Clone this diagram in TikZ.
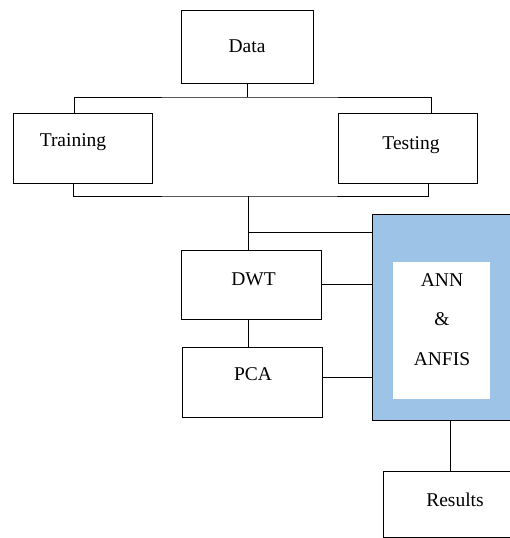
\documentclass[tikz,border=0pt]{standalone}
\usepackage{fontspec}
\setmainfont{Liberation Serif}
\definecolor{bleu}{RGB}{157,195,230}

\begin{document}
\begin{tikzpicture}[x=1pt,y=-1pt,line width=1pt,
  box/.style={draw,fill=white,inner sep=0pt,font=\fontsize{19.5}{39.5}\selectfont},
  lbl/.style={font=\fontsize{19.5}{39.5}\selectfont,inner sep=0pt,align=center}]
\useasboundingbox (0,0) rectangle (510,538);

\node[box,minimum width=132,minimum height=73] (data) at (247,46.5) {Data};
\node[box,minimum width=139,minimum height=70,label={[lbl,xshift=-9.5,yshift=6]center:Training}] (train) at (82.5,148) {};
\node[box,minimum width=139,minimum height=70,label={[lbl,xshift=3.5,yshift=3]center:Testing}] (test) at (407.5,148) {};
\node[box,minimum width=140,minimum height=69,label={[lbl,xshift=2.5,yshift=5.5]center:DWT}] (dwt) at (251,284.5) {};
\node[box,minimum width=140,minimum height=70,label={[lbl,xshift=1,yshift=8]center:PCA}] (pca) at (252,382) {};
\node[box,fill=bleu,minimum width=148,minimum height=206] (model) at (446,317) {};
\node[fill=white,minimum width=97,minimum height=137,inner sep=0pt] (inner) at (441.5,330.5) {};
\node[lbl] (algo) at (442,319.5) {ANN\\\&\\ANFIS};
\node[box,minimum width=144,minimum height=66,label={[lbl,yshift=4]center:Results}] (res) at (455,504) {};

\coordinate (bus1) at (247,97);
\coordinate (bus2) at (248,196);
\coordinate (tap) at (248,232);
\draw (data.south) -- (bus1);
\draw ([xshift=-8.5]train.north) |- (bus1) -| ([xshift=23.5]test.north);
\draw ([xshift=-9.5]train.south) |- (bus2) -| ([xshift=20.5]test.south);
\draw (bus2) -- ([xshift=-3]dwt.north);
\draw (tap) -- (tap -| model.west);
\draw (dwt.east) -- (dwt.east -| model.west);
\draw ([xshift=-3]dwt.south) -- ([xshift=-3]dwt.south |- pca.north);
\draw ([yshift=5]pca.east) -- ([yshift=5]pca.east -| model.west);
\draw ([xshift=-5]res.north) -- ([xshift=-5]res.north |- model.south);
\end{tikzpicture}
\end{document}
